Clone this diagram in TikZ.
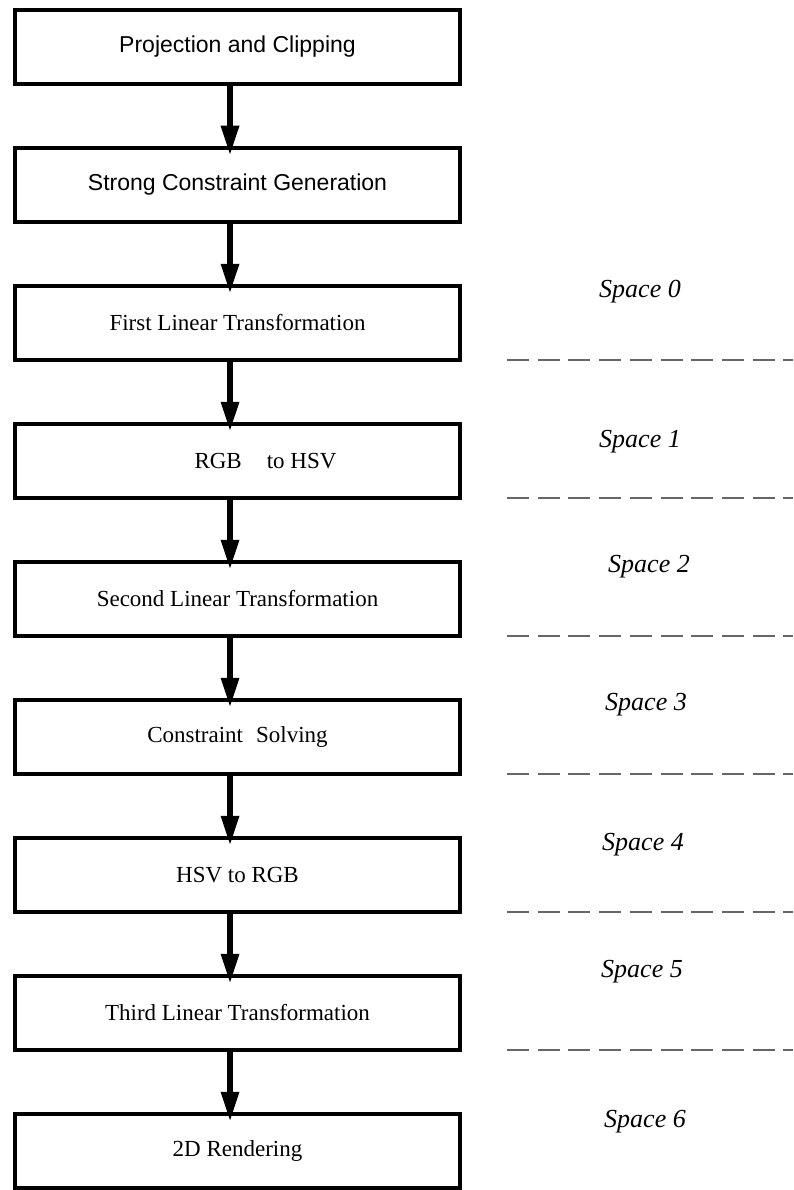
\documentclass[tikz,border=0pt]{standalone}
\usepackage{fontspec}
\setmainfont{Liberation Serif}
\newfontfamily\helv{Liberation Sans}
\usetikzlibrary{arrows.meta}
\begin{document}
\begin{tikzpicture}[x=1pt,y=-1pt,
  stagebox/.style={draw, line width=4.5pt, minimum width=445pt, minimum height=74pt,
    inner sep=0pt, font=\fontsize{23}{27}\selectfont},
  flow/.style={line width=6pt, -{Triangle[length=30pt,width=17pt]}},
  spacelbl/.style={font=\fontsize{26}{30}\selectfont\itshape},
  sepline/.style={draw=black!60, line width=2pt, dash pattern=on 22pt off 8.7pt}]
\useasboundingbox (0,0) rectangle (793,1190);

\node[stagebox] (b1) at (237.5,47) {\helv Projection and Clipping};
\node[stagebox] (b2) at (237.5,185) {\helv Strong Constraint Generation};
\node[stagebox] (b3) at (237.5,323) {First Linear Transformation};
\node[stagebox] (b4) at (237.5,461) {\hspace*{56pt}RGB\hspace{25pt}to HSV};
\node[stagebox] (b5) at (237.5,599) {Second Linear Transformation};
\node[stagebox] (b6) at (237.5,737) {Constraint\hspace{13pt}Solving};
\node[stagebox] (b7) at (237.5,875) {HSV to RGB};
\node[stagebox] (b8) at (237.5,1013) {Third Linear Transformation};
\node[stagebox] (b9) at (237.5,1151) {2D Rendering};

\foreach \a/\b in {b1/b2,b2/b3,b3/b4,b4/b5,b5/b6,b6/b7,b7/b8,b8/b9}
  \draw[flow] ([xshift=-7.5pt]\a.south) -- ([xshift=-7.5pt,yshift=-10pt]\b.north);

\foreach \y in {360,498,636,774,912,1050}
  \draw[sepline] (507,\y) -- (793,\y);

\node[spacelbl] (s0) at (640,292) {Space 0};
\node[spacelbl] (s1) at (640,442) {Space 1};
\node[spacelbl] (s2) at (649,567) {Space 2};
\node[spacelbl] (s3) at (646,705) {Space 3};
\node[spacelbl] (s4) at (643,845) {Space 4};
\node[spacelbl] (s5) at (642,972) {Space 5};
\node[spacelbl] (s6) at (645,1122) {Space 6};
\end{tikzpicture}
\end{document}
